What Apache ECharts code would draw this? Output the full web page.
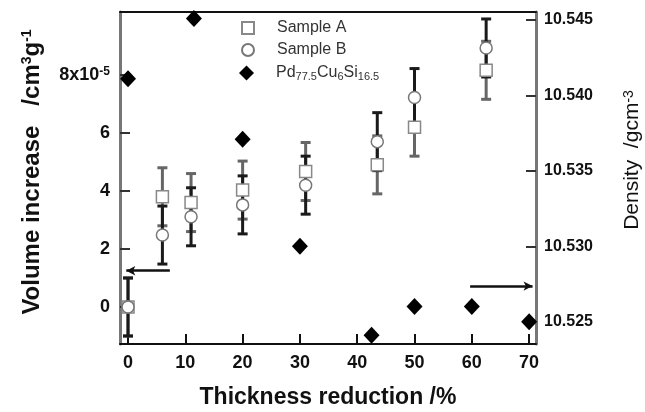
<!DOCTYPE html>
<html><head><meta charset="utf-8">
<script src="https://cdn.jsdelivr.net/npm/echarts@6/dist/echarts.min.js"></script>
<style>html,body{margin:0;padding:0;background:#fff}#c{width:645px;height:412px}</style>
</head><body><div id="c"></div>
<script>
// ---- data ----
const thickness = [0, 6, 11, 20, 31, 43.5, 50, 62.5];
const sampleA   = [0, 3.8, 3.6, 4.03, 4.67, 4.9, 6.2, 8.16];
const sampleB   = [0, 2.48, 3.11, 3.52, 4.2, 5.7, 7.22, 8.93];
const errA      = [1, 1, 1, 1, 1, 1, 1, 1];
const errB      = [1, 1, 1, 1, 1, 1, 1, 1];
const densityX  = [0, 11.5, 20, 30, 42.5, 50, 60, 70];
const density   = [10.5411, 10.5451, 10.5371, 10.5300, 10.5241, 10.5260, 10.5260, 10.5250];
const xTicks      = [0, 10, 20, 30, 40, 50, 60, 70];
const yLeftTicks  = [0, 2, 4, 6, 8];
const yRightTicks = [10.525, 10.530, 10.535, 10.540, 10.545];
const leftArrow  = [[7.3, 1.25], [-0.3, 1.25]];
const rightArrow = [[59.7, 10.52736], [70.6, 10.52736]];
const names = ['Sample A', 'Sample B', 'Pd77.5Cu6Si16.5'];

const FONT = 'Liberation Sans';

function errData(xs, ys, es) {
  return xs.map((x, i) => [x, ys[i] - es[i], ys[i] + es[i]]);
}
function errRender(color) {
  return function (params, api) {
    const x = api.value(0), lo = api.value(1), hi = api.value(2);
    const p1 = api.coord([x, hi]), p2 = api.coord([x, lo]);
    const hw = 5;
    const style = { stroke: color, lineWidth: 3 };
    return { type: 'group', children: [
      { type: 'line', shape: { x1: p1[0], y1: p1[1], x2: p2[0], y2: p2[1] }, style },
      { type: 'line', shape: { x1: p1[0] - hw, y1: p1[1], x2: p1[0] + hw, y2: p1[1] }, style },
      { type: 'line', shape: { x1: p2[0] - hw, y1: p2[1], x2: p2[0] + hw, y2: p2[1] }, style }
    ]};
  };
}

const legendText = {
  fontFamily: FONT, fontSize: 16, color: '#333', lineHeight: 18,
  rich: { s: { fontFamily: FONT, fontSize: 11, color: '#333', verticalAlign: 'bottom', lineHeight: 7 } }
};

const chart = echarts.init(document.getElementById('c'), null, { renderer: 'canvas' });
const option = {
  animation: false,
  backgroundColor: '#fff',
  grid: { left: 120, right: 109, top: 12, bottom: 68, containLabel: false, outerBoundsMode: 'none' },
  legend: [{
    orient: 'vertical', left: 236, top: 14, itemWidth: 12, itemHeight: 12, itemGap: 4,
    data: [names[0], names[1]],
    textStyle: Object.assign({}, legendText, { padding: [0, 0, 0, 18] })
  }, {
    orient: 'vertical', left: 234, top: 59, itemWidth: 15, itemHeight: 15, itemGap: 4,
    data: [names[2]],
    formatter: function () { return 'Pd{s|77.5}Cu{s|6}Si{s|16.5}'; },
    textStyle: Object.assign({}, legendText, { padding: [0, 0, 0, 17] })
  }],
  xAxis: [{
    type: 'value', min: -1.4, max: 71.2, position: 'bottom',
    axisLine: { onZero: false, lineStyle: { color: '#111', width: 2 } },
    axisTick: { inside: true, length: 10, customValues: xTicks, lineStyle: { color: '#111', width: 2 } },
    axisLabel: { customValues: xTicks, margin: 10, fontFamily: FONT, fontWeight: 'bold', fontSize: 18, color: '#111' },
    splitLine: { show: false },
    name: 'Thickness reduction /%', nameLocation: 'middle', nameGap: 42,
    nameTextStyle: { fontFamily: FONT, fontWeight: 'bold', fontSize: 23, color: '#111' }
  }, {
    type: 'value', min: -1.4, max: 71.2, position: 'top',
    axisLine: { onZero: false, lineStyle: { color: '#111', width: 2 } },
    axisTick: { show: false }, axisLabel: { show: false }, splitLine: { show: false }
  }],
  yAxis: [{
    type: 'value', min: -1.276, max: 10.17, position: 'left',
    axisLine: { show: true, onZero: false, lineStyle: { color: '#777', width: 3 } },
    axisTick: { inside: true, length: 10, customValues: yLeftTicks, lineStyle: { color: '#333', width: 2 } },
    axisLabel: {
      customValues: yLeftTicks, margin: 10, fontFamily: FONT, fontWeight: 'bold', fontSize: 18, color: '#111',
      formatter: function (v) { return v === 8 ? '8x10{sup|-5}' : String(v); },
      rich: { sup: { fontFamily: FONT, fontWeight: 'bold', fontSize: 12, color: '#111', verticalAlign: 'top', lineHeight: 10 } }
    },
    splitLine: { show: false },
    name: 'Volume increase   /cm{sup|3}g{sup|-1}', nameLocation: 'middle', nameGap: 76, nameRotate: 90,
    nameTextStyle: {
      fontFamily: FONT, fontWeight: 'bold', fontSize: 24, color: '#111', padding: [0, 0, 0, 12],
      rich: { sup: { fontFamily: FONT, fontWeight: 'bold', fontSize: 14, color: '#111', verticalAlign: 'top', lineHeight: 10 } }
    }
  }, {
    type: 'value', min: 10.52352, max: 10.54553, position: 'right',
    axisLine: { show: true, onZero: false, lineStyle: { color: '#777', width: 3 } },
    axisTick: { inside: true, length: 10, customValues: yRightTicks, lineStyle: { color: '#333', width: 2 } },
    axisLabel: {
      customValues: yRightTicks, margin: 8, fontFamily: FONT, fontWeight: 'bold', fontSize: 16, color: '#111',
      formatter: function (v) { return v.toFixed(3); }
    },
    splitLine: { show: false },
    name: 'Density  /gcm{sup|-3}', nameLocation: 'middle', nameGap: 86, nameRotate: 90,
    nameTextStyle: {
      fontFamily: FONT, fontSize: 21, color: '#111', padding: [0, 0, 0, 36],
      rich: { sup: { fontFamily: FONT, fontSize: 14, color: '#111', verticalAlign: 'top', lineHeight: 10 } }
    }
  }],
  series: [
    { type: 'custom', name: 'errA', xAxisIndex: 0, yAxisIndex: 0, renderItem: errRender('#666'),
      encode: { x: 0, y: [1, 2] }, data: errData(thickness, sampleA, errA), z: 2, silent: true },
    { type: 'custom', name: 'errB', xAxisIndex: 0, yAxisIndex: 0, renderItem: errRender('#1a1a1a'),
      encode: { x: 0, y: [1, 2] }, data: errData(thickness, sampleB, errB), z: 2, silent: true },
    { type: 'scatter', name: names[0], xAxisIndex: 0, yAxisIndex: 0, symbol: 'rect', symbolSize: 12, z: 4,
      itemStyle: { color: '#fff', borderColor: '#888', borderWidth: 1.5, opacity: 1 },
      data: thickness.map((x, i) => [x, sampleA[i]]),
      markLine: { silent: true, symbol: ['none', 'arrow'], symbolSize: [7, 9], label: { show: false },
        lineStyle: { color: '#111', width: 2.5, type: 'solid' },
        data: [[{ coord: leftArrow[0] }, { coord: leftArrow[1] }]] } },
    { type: 'scatter', name: names[1], xAxisIndex: 0, yAxisIndex: 0, symbol: 'circle', symbolSize: 12, z: 5,
      itemStyle: { color: '#fff', borderColor: '#777', borderWidth: 1.5, opacity: 1 },
      data: thickness.map((x, i) => [x, sampleB[i]]) },
    { type: 'scatter', name: names[2], xAxisIndex: 0, yAxisIndex: 1, symbol: 'diamond', symbolSize: [16, 17], z: 6,
      itemStyle: { color: '#000', opacity: 1 },
      data: densityX.map((x, i) => [x, density[i]]),
      markLine: { silent: true, symbol: ['none', 'arrow'], symbolSize: [7, 9], label: { show: false },
        lineStyle: { color: '#111', width: 2.5, type: 'solid' },
        data: [[{ coord: rightArrow[0] }, { coord: rightArrow[1] }]] } }
  ]
};
chart.setOption(option);
</script>
</body></html>
